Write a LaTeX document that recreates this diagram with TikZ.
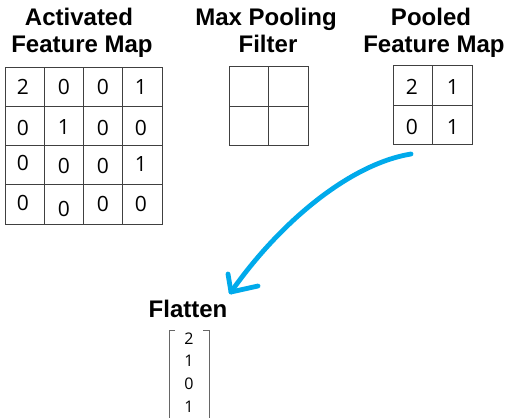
\documentclass[tikz,border=0pt]{standalone}
\usepackage{fontspec}
\setmainfont{Liberation Sans}
\newfontfamily\numfont{Open Sans}
\definecolor{arrowblue}{RGB}{0,170,235}
\tikzset{
  ttl/.style={font=\fontsize{24}{24}\selectfont\bfseries, anchor=base, inner sep=0pt},
  num/.style={font=\numfont\fontsize{21}{21}\selectfont, inner sep=0pt},
  vnum/.style={font=\numfont\fontsize{16}{16}\selectfont, inner sep=0pt},
  gridline/.style={draw=black!75, line width=0.9pt},
  flow/.style={draw=arrowblue, line width=4.8pt, line cap=round, line join=round},
}
\begin{document}
\begin{tikzpicture}[x=1pt,y=-1pt]
\useasboundingbox[fill=white] (0,0) rectangle (507,418);
% titles
\node[ttl] (t1) at (79,25) {Activated};
\node[ttl] (t2) at (82,52) {Feature Map};
\node[ttl] (t3) at (266,25) {Max Pooling};
\node[ttl] (t4) at (268,52) {Filter};
\node[ttl] (t5) at (431,25) {Pooled};
\node[ttl] (t6) at (434,52) {Feature Map};
% activated grid
\draw[gridline] (5,67) rectangle (162.2,224.2);
\foreach \i in {1,2,3} {
  \draw[gridline] (5+39.3*\i,67) -- (5+39.3*\i,224.2);
  \draw[gridline] (5,67+39.3*\i) -- (162.2,67+39.3*\i);
}
\node[num] (a11) at (23,87) {2};
\node[num] (a12) at (64,87) {0};
\node[num] (a13) at (103,87) {0};
\node[num] (a14) at (141,87) {1};
\node[num] (a21) at (23,128) {0};
\node[num] (a22) at (64,127) {1};
\node[num] (a23) at (103,128) {0};
\node[num] (a24) at (141,128) {0};
\node[num] (a31) at (23,163) {0};
\node[num] (a32) at (64,166) {0};
\node[num] (a33) at (103,166) {0};
\node[num] (a34) at (141,164) {1};
\node[num] (a41) at (23,203) {0};
\node[num] (a42) at (64,209) {0};
\node[num] (a43) at (103,204) {0};
\node[num] (a44) at (141,204) {0};
% filter grid
\draw[gridline] (229.3,66.7) rectangle (308,145.3);
\draw[gridline] (268.6,66.7) -- (268.6,145.3);
\draw[gridline] (229.3,106) -- (308,106);
% pooled grid
\draw[gridline] (393.3,65.7) rectangle (472,144.3);
\draw[gridline] (432.6,65.7) -- (432.6,144.3);
\draw[gridline] (393.3,105) -- (472,105);
\node[num] (p11) at (412,87) {2};
\node[num] (p12) at (453,87) {1};
\node[num] (p21) at (412,127) {0};
\node[num] (p22) at (453,127) {1};
% arrow
\coordinate (s) at (411,154);
\coordinate (e) at (231,292);
\coordinate (h1) at (228,274);
\coordinate (h2) at (258,286);
\draw[flow] (s) .. controls (350,164) and (280,222) .. (e);
\draw[flow] (h1) -- (e) -- (h2);
% flatten
\node[ttl] (ft) at (188,317) {Flatten};
\draw[draw=black!60, line width=0.9pt] (175,330) -- (169,330) -- (169,420);
\draw[draw=black!60, line width=0.9pt] (203,330) -- (209,330) -- (209,420);
\node[vnum] (v1) at (189,339) {2};
\node[vnum] (v2) at (189,361) {1};
\node[vnum] (v3) at (189,384) {0};
\node[vnum] (v4) at (189,407) {1};
\end{tikzpicture}
\end{document}
